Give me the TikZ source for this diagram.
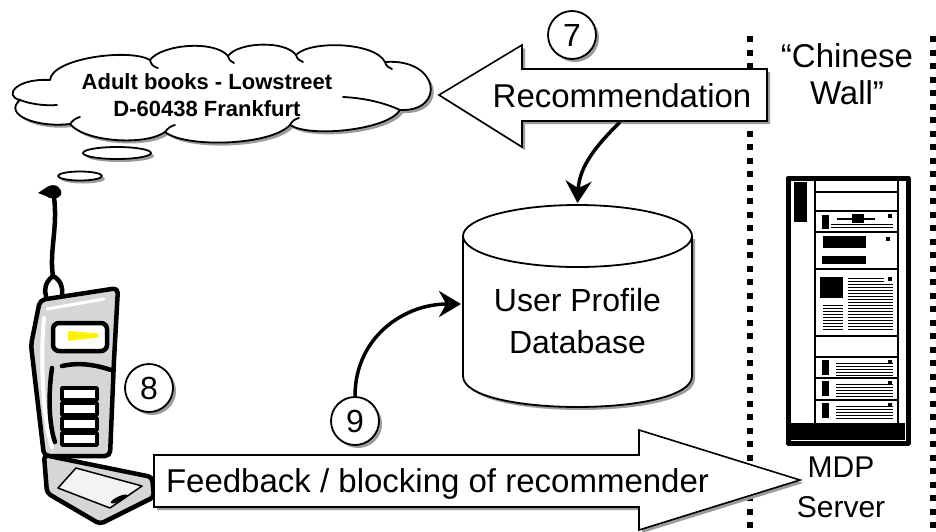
\documentclass[tikz,border=0pt]{standalone}
\usepackage{fontspec}
\setmainfont{Liberation Sans}
\usetikzlibrary{arrows.meta,positioning,shadows}
\definecolor{mdpShade}{HTML}{9B9B9B}
\definecolor{mdpPhone}{HTML}{D6D6D6}
\definecolor{mdpScreen}{HTML}{FFF200}

\tikzset{
  castshadow/.style={drop shadow={shadow xshift=3pt,shadow yshift=-3pt,fill=mdpShade,opacity=1}},
  blockarrow/.style={draw, line width=1.6pt, fill=white, line join=miter, castshadow},
  stepnum/.style={circle, draw, line width=1.8pt, fill=white, minimum size=48pt,
                  inner sep=0pt, castshadow, font=\fontsize{32}{32}\selectfont},
  bigtext/.style={inner sep=0pt, align=center, font=\fontsize{33}{40}\selectfont},
  cloudtext/.style={inner sep=0pt, align=center, font=\fontsize{22}{27}\selectfont\bfseries},
  cloudline/.style={draw, line width=1.8pt, fill=white, castshadow},
  curl/.style={line width=1.8pt, line cap=round},
  bubble/.style={draw, line width=1.8pt, fill=white, castshadow},
  bendarrow/.style={line width=3.5pt, -{Stealth[length=22pt,width=26pt]}},
  wallline/.style={line width=6pt, dash pattern=on 6pt off 7.5pt},
  phoneline/.style={line width=4.5pt, line cap=round},
  rackline/.style={line width=1.5pt},
  textline/.style={line width=0.9pt}
}

\begin{document}
\begin{tikzpicture}[x=1pt,y=-1pt,line join=round]
  \useasboundingbox (0,0) rectangle (936,531);
  \fill[white] (0,0) rectangle (936,531);

  % the wall
  \draw[wallline] (750,36) -- (750,531);
  \draw[wallline] (933,36) -- (933,531);
  \node[bigtext, anchor=north, font=\fontsize{33}{37}\selectfont] (wall) at (847,43) {“Chinese\\Wall”};

  % thought cloud
  \path[cloudline] (20,100) .. controls (3,96) and (16,78) .. (50,80)
    .. controls (52,58) and (130,48) .. (150,60)
    .. controls (162,44) and (215,40) .. (228,56)
    .. controls (238,42) and (285,40) .. (296,55)
    .. controls (310,40) and (375,42) .. (385,62)
    .. controls (440,58) and (446,112) .. (400,110)
    .. controls (388,130) and (310,138) .. (290,125)
    .. controls (270,146) and (185,148) .. (165,132)
    .. controls (145,146) and (85,142) .. (70,124)
    .. controls (35,128) and (3,114) .. (20,100) -- cycle;
  \draw[curl] (20,100) .. controls (30,104) and (45,106) .. (57,105);
  \draw[curl] (343,97) .. controls (365,98) and (385,103) .. (400,110);
  \draw[curl] (150,60) .. controls (151,65) and (154,67) .. (158,68);
  \draw[curl] (228,56) .. controls (229,60) and (231,62) .. (234,63);
  \draw[curl] (296,55) .. controls (297,59) and (300,61) .. (303,62);
  \draw[curl] (385,62) .. controls (386,66) and (389,68) .. (392,69);
  \draw[curl] (70,124) .. controls (73,120) and (76,118) .. (80,117);
  \draw[curl] (165,132) .. controls (168,128) and (171,126) .. (175,125);
  \draw[curl] (290,125) .. controls (292,121) and (295,119) .. (299,118);
  \node[cloudtext, anchor=north] (address) at (207,73) {Adult books - Lowstreet\\D-60438 Frankfurt};
  \draw[bubble] (117,153) ellipse [x radius=34, y radius=6];
  \draw[bubble] (80,176) ellipse [x radius=22, y radius=4.5];

  % handset
  \fill (38,193) -- (47,187) .. controls (55,182) and (63,188) .. (61,195)
        .. controls (58,200) and (49,199) .. (46,196) -- cycle;
  \draw[phoneline] (54,197) .. controls (58,228) and (49,252) .. (53,276);
  \draw[phoneline] (53,276) .. controls (45,282) and (44,290) .. (46,296);
  \draw[phoneline] (53,276) .. controls (61,280) and (63,288) .. (62,294);
  \draw[phoneline, fill=mdpPhone, rounded corners=5pt]
    (40,300) -- (118,288) -- (114,360) -- (110,456) -- (44,456) -- (31,345) -- cycle;
  \draw[white, line width=3pt, line cap=round] (47,309) -- (104,299);
  \draw[white, line width=4pt, line cap=round] (44,318) .. controls (40,360) and (43,420) .. (52,447);
  \draw[phoneline, fill=white, rounded corners=6pt] (53,323) rectangle (107,351);
  \fill[mdpScreen] (68,331) -- (98,333.5) -- (98,337.5) -- (68,341) -- cycle;
  \draw[phoneline] (62,366) .. controls (80,362) and (96,365) .. (111,370);
  \draw[phoneline] (52,368) .. controls (48,395) and (49,425) .. (55,442);
  \foreach \ky in {388,403,418,433}
    \draw[line width=3.5pt, fill=white] (62,\ky) rectangle (97,\ky+12);
  \draw[phoneline, fill=mdpPhone, rounded corners=4pt]
    (44,455) -- (152,477) -- (154,497) -- (100,524) -- (47,493) -- cycle;
  \draw[line width=1.5pt, fill=white!70!mdpPhone] (76,468) -- (142,486) -- (110,508) -- (58,488) -- cycle;
  \fill[rotate around={25:(119,499)}] (119,499) ellipse [x radius=9, y radius=2.5];

  % server rack
  \draw[line width=5pt, fill=white] (788,178) rectangle (908,443);
  \fill (791,423) rectangle (905,440);
  \fill (794,182) rectangle (807,222);
  \draw[rackline] (815,181) -- (815,423) (898,181) -- (898,423);
  \foreach \sy in {192,211,232,269,336,357,378,400}
    \draw[rackline] (815,\sy) -- (898,\sy);
  \fill (822,215) rectangle (829,229);
  \draw[line width=2pt] (837,219) -- (875,219);
  \fill (852,214) rectangle (864,223);
  \foreach \ty in {224,227}
    \draw[textline] (831,\ty) -- (893,\ty);
  \fill (823,236) rectangle (866,248);
  \fill (822,256) rectangle (866,264);
  \fill (820,277) rectangle (843,298);
  \foreach \ty in {305,308,...,329}
    \draw[textline] (823,\ty) -- (843,\ty);
  \foreach \ty in {284,287,...,330}
    \draw[textline] (848,\ty) -- (893,\ty);
  \foreach \ty in {278,281}
    \draw[textline] (848,\ty) -- (884,\ty);
  \foreach \py in {357,378,400} {
    \fill (822,\py+3) rectangle (829,\py+18);
    \foreach \k in {6,9,12,15,18}
      \draw[textline] (836,\py+\k) -- (893,\py+\k);
  }
  \foreach \qx/\qy in {888/214,886/237,888/277,888/360,888/381,888/403}
    \fill (\qx,\qy) rectangle (\qx+4,\qy+4);
  \node[bigtext, anchor=north, font=\fontsize{30}{40}\selectfont] (mdp) at (841,457) {MDP\\Server};

  % profile database
  \draw[line width=1.8pt, fill=white, castshadow]
    (463,236) -- (463,376) .. controls (463,417.3) and (692,417.3) .. (692,376) -- (692,236) -- cycle;
  \draw[line width=1.8pt, fill=white] (577.5,236) ellipse [x radius=114.5, y radius=31];
  \node[bigtext, anchor=north, font=\fontsize{32}{42}\selectfont] (db) at (577.5,288) {User Profile\\Database};

  % recommendation and feedback
  \draw[blockarrow] (439,95) -- (522,45) -- (522,69) -- (767,69) -- (767,121) -- (522,121) -- (522,147) -- cycle;
  \node[bigtext, anchor=base] (rectext) at (622,107) {Recommendation};
  \draw[blockarrow] (154,455) -- (639,455) -- (639,430) -- (800,480) -- (639,530) -- (639,507) -- (154,507) -- cycle;
  \node[bigtext, anchor=base] (fbtext) at (437.5,492) {Feedback / blocking of recommender};

  \node[stepnum] (n7) at (572,35) {7};
  \node[stepnum] (n8) at (149,388) {8};
  \node[stepnum] (n9) at (355,421) {9};

  \coordinate (recfoot) at (620,122);
  \coordinate (dbtop) at (577.5,203);
  \coordinate (dbside) at (461,304);
  \draw[bendarrow] (recfoot) .. controls +(-22,22) and +(2,-38) .. (dbtop);
  \draw[bendarrow] (n9.north) .. controls +(0,-58) and +(-58,0) .. (dbside);
\end{tikzpicture}
\end{document}
